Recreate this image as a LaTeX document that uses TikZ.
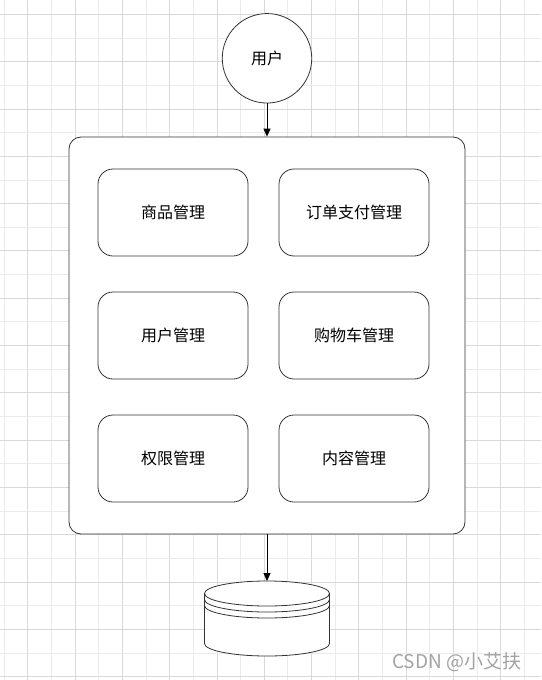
\documentclass[tikz,border=0pt]{standalone}
\usepackage{fontspec}
\setmainfont{Noto Sans CJK SC}
\usetikzlibrary{arrows.meta}
\definecolor{gridA}{HTML}{D9D9D9}
\definecolor{gridB}{HTML}{EBEBEB}
\definecolor{edge}{HTML}{333333}
\definecolor{wm}{HTML}{A3A3A3}
\tikzset{
  box/.style={draw=edge, line width=0.8pt, rounded corners=15pt, minimum width=150pt, minimum height=87pt, inner sep=0pt, font=\fontsize{16}{18}\selectfont},
  container/.style={draw=edge, line width=0.8pt, rounded corners=12pt, minimum width=396pt, minimum height=397pt, inner sep=0pt, fill=white},
  usr/.style={draw=edge, line width=0.8pt, circle, minimum size=89.5pt, inner sep=0pt, fill=white, font=\fontsize{16}{18}\selectfont},
  conn/.style={draw=black, line width=0.8pt, -{Triangle[length=8pt,width=7pt]}},
  cyl/.style={draw=edge, line width=0.8pt},
}
\begin{document}
\begin{tikzpicture}[x=1pt, y=-1pt]
\useasboundingbox (0,0) rectangle (541,680);
\fill[white] (0,0) rectangle (541,680);
% grid
\foreach \i in {0,...,22} {
  \pgfmathsetmacro{\xx}{4+\i*23.65}
  \pgfmathtruncatemacro{\pp}{mod(\i,2)}
  \ifnum\pp=1 \draw[gridA, line width=0.7pt] (\xx,0) -- (\xx,680);
  \else \draw[gridB, line width=0.7pt] (\xx,0) -- (\xx,680); \fi
}
\foreach \j in {0,...,28} {
  \pgfmathsetmacro{\yy}{14.3+\j*23.65}
  \pgfmathtruncatemacro{\pp}{mod(\j,2)}
  \ifnum\pp=0 \draw[gridA, line width=0.7pt] (0,\yy) -- (541,\yy);
  \else \draw[gridB, line width=0.7pt] (0,\yy) -- (541,\yy); \fi
}
% nodes
\node[usr] (user) at (267,58.3) {用户};
\node[container] (sys) at (267,335.5) {};
\node[box] (goods) at (173,212.5) {商品管理};
\node[box] (order) at (354,212.5) {订单支付管理};
\node[box] (umgr) at (173,335.5) {用户管理};
\node[box] (cart) at (354,335.5) {购物车管理};
\node[box] (perm) at (173,458.5) {权限管理};
\node[box] (content) at (354,458.5) {内容管理};
% database
\coordinate (dbtop) at (267,581);
\fill[white] (204.5,593.5) -- (204.5,643.5) arc[start angle=180, end angle=360, x radius=62.5pt, y radius=12.5pt] -- (329.5,593.5) -- cycle;
\draw[cyl, fill=white] (267,593.5) ellipse [x radius=62.5pt, y radius=12.5pt];
\draw[cyl] (204.5,599.5) arc[start angle=180, end angle=360, x radius=62.5pt, y radius=12.5pt];
\draw[cyl] (204.5,605.5) arc[start angle=180, end angle=360, x radius=62.5pt, y radius=12.5pt];
\draw[cyl] (204.5,593.5) -- (204.5,643.5) arc[start angle=180, end angle=360, x radius=62.5pt, y radius=12.5pt] -- (329.5,593.5);
% connectors
\draw[conn] (user.south) -- (sys.north);
\draw[conn] (sys.south) -- (dbtop);
% watermark
\node[wm, anchor=west, inner sep=0pt, font=\fontsize{19}{21}\selectfont] (mark) at (392,662) {CSDN @小艾扶};
\end{tikzpicture}
\end{document}
